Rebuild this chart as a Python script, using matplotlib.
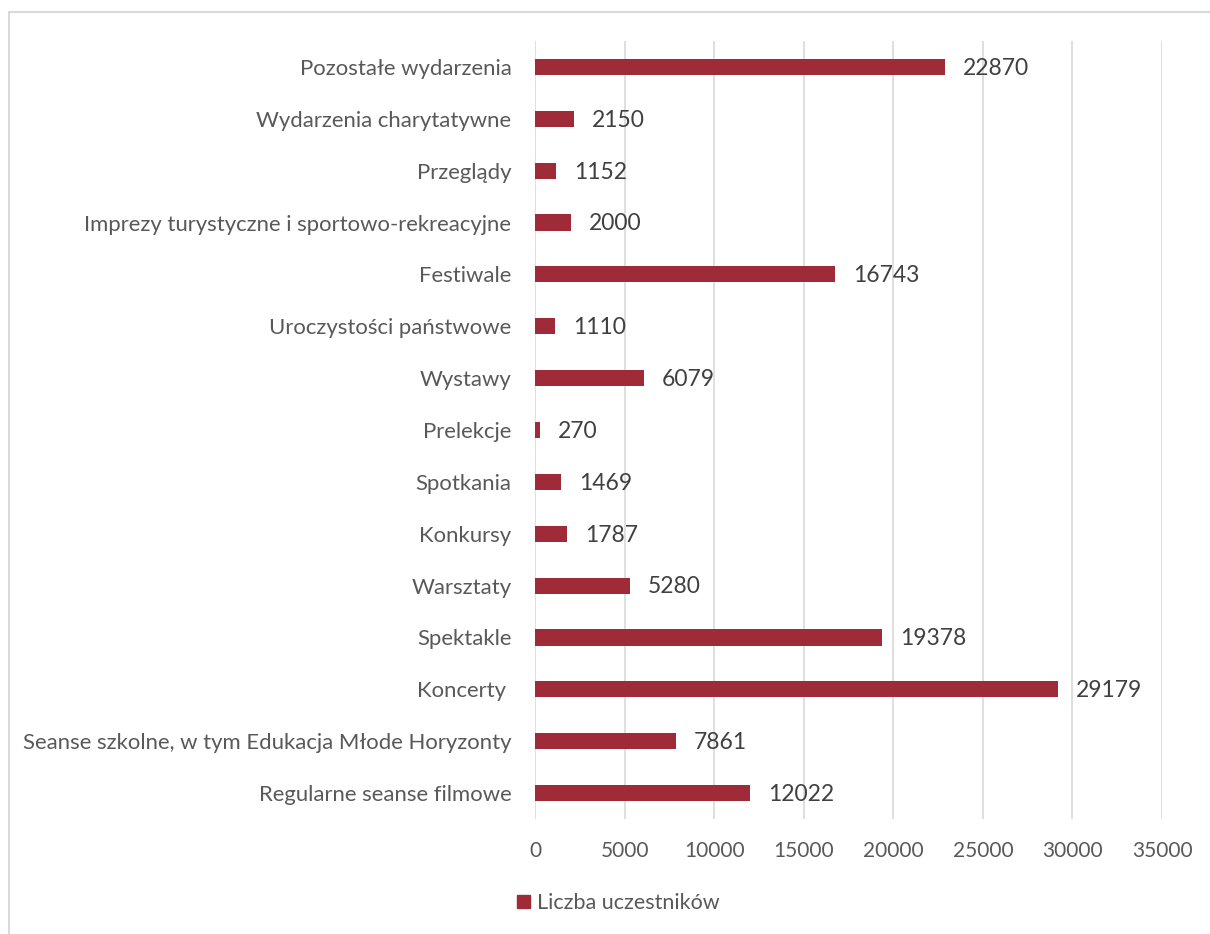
import matplotlib
matplotlib.use("Agg")
import matplotlib.pyplot as plt
from matplotlib.patches import Rectangle

plt.rcParams["font.family"] = ["Lato", "DejaVu Sans"]

CATEGORIES = [
    "Regularne seanse filmowe",
    "Seanse szkolne, w tym Edukacja Młode Horyzonty",
    "Koncerty ",
    "Spektakle",
    "Warsztaty",
    "Konkursy",
    "Spotkania",
    "Prelekcje",
    "Wystawy",
    "Uroczystości państwowe",
    "Festiwale",
    "Imprezy turystyczne i sportowo-rekreacyjne",
    "Przeglądy",
    "Wydarzenia charytatywne",
    "Pozostałe wydarzenia",
]
VALUES = [12022, 7861, 29179, 19378, 5280, 1787, 1469, 270, 6079, 1110,
          16743, 2000, 1152, 2150, 22870]
XTICKS = [0, 5000, 10000, 15000, 20000, 25000, 30000, 35000]
SERIES = "Liczba uczestników"

BAR = "#A02B38"
GRID = "#D9D9D9"
TXT = "#595959"

W, H = 1210, 934
fig = plt.figure(figsize=(W / 100, H / 100), dpi=100)
# chart frame: only the left and top edges fall inside the picture
fig.patches.append(Rectangle((9 / W, -0.1), 1, 1.1 - 12 / H, transform=fig.transFigure,
                             fill=False, edgecolor=GRID, lw=1.5))

ax = fig.add_axes([535 / W, 1 - 819 / H, 627 / W, (819 - 41) / H])
y = range(len(CATEGORIES))
ax.barh(y, VALUES, height=0.31, color=BAR, zorder=3)
for i, v in enumerate(VALUES):
    ax.annotate(str(v), (v, i), xytext=(13, -1), textcoords="offset points",
                va="center", ha="left", fontsize=16.5, color="#404040")

ax.set_xlim(0, 35000)
ax.set_ylim(-0.5, len(CATEGORIES) - 0.5)
ax.set_xticks(XTICKS)
ax.set_xticklabels([str(t) for t in XTICKS])
ax.set_yticks(list(y))
ax.set_yticklabels(CATEGORIES)
ax.tick_params(axis="x", length=0, labelsize=15, colors=TXT, pad=16)
ax.tick_params(axis="y", length=0, labelsize=15.9, colors=TXT, pad=17)
ax.grid(axis="x", color=GRID, lw=1.2, zorder=0)
for s in ax.spines.values():
    s.set_visible(False)

leg = fig.legend(handles=[Rectangle((0, 0), 1, 1, color=BAR)], labels=[SERIES],
                 loc="center left", bbox_to_anchor=(498 / W, 1 - 903 / H),
                 frameon=False, fontsize=15.5, handlelength=0.6, handleheight=0.6,
                 handletextpad=0.3)
for t in leg.get_texts():
    t.set_color(TXT)

fig.savefig("out.png", dpi=100)
